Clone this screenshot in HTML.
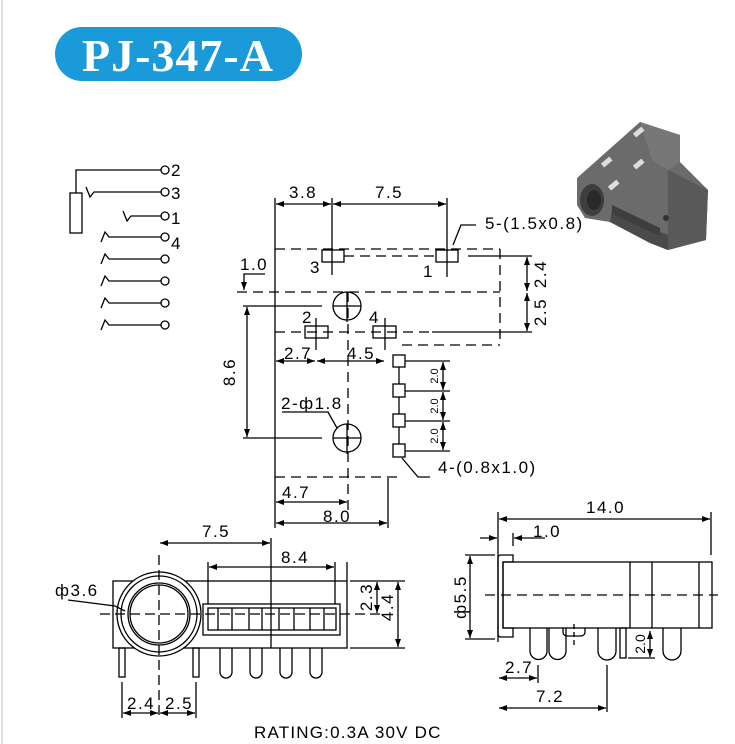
<!DOCTYPE html>
<html><head><meta charset="utf-8"><style>
html,body{margin:0;padding:0;background:#fff;}
svg{display:block;font-family:"Liberation Sans",Arial,sans-serif;}
</style></head><body>
<svg width="735" height="744" viewBox="0 0 735 744" xmlns="http://www.w3.org/2000/svg">
<defs>
<marker id="a" markerWidth="8" markerHeight="6" refX="8" refY="3" orient="auto-start-reverse" markerUnits="userSpaceOnUse"><path d="M0,0 L8,3 L0,6 z" fill="#000"/></marker>
</defs>
<line x1="2" y1="0" x2="2" y2="744" stroke="#ddd" stroke-width="2"/>
<rect x="55" y="27" width="247" height="54" rx="27" fill="#1a9ad9"/>
<text x="178" y="71" font-family="Liberation Serif,serif" font-weight="bold" font-size="46" fill="#fff" text-anchor="middle" letter-spacing="1">PJ-347-A</text>

<!-- schematic -->
<g stroke="#000" stroke-width="1.3" fill="none">
<polyline points="76,193 76,170 161,170"/>
<rect x="70" y="193" width="12" height="40" fill="#fff"/>
<polyline points="86,187 90,197 94,192 161,192"/>
<polyline points="123,211 127,221 131,216 161,216"/>
<polyline points="101,242 105,232 109,237 161,237"/>
<polyline points="101,264 105,254 109,259 161,259"/>
<polyline points="101,286 105,276 109,281 161,281"/>
<polyline points="101,308 105,298 109,303 161,303"/>
<polyline points="101,330 105,320 109,325 161,325"/>
<circle cx="165" cy="170" r="4"/><circle cx="165" cy="192" r="4"/><circle cx="165" cy="216" r="4"/><circle cx="165" cy="237" r="4"/>
<circle cx="165" cy="259" r="4"/><circle cx="165" cy="281" r="4"/><circle cx="165" cy="303" r="4"/><circle cx="165" cy="325" r="4"/>
</g>
<g font-size="17"><text x="171" y="176">2</text><text x="171" y="199">3</text><text x="171" y="224">1</text><text x="171" y="249">4</text></g>

<!-- photo -->
<g>
<polygon points="577,178 640,122 680,135 680,162 708,190 706,240 668,250 650,243 610,222 585,218 577,205" fill="#6b6b6b"/>
<polygon points="640,122 680,135 680,162 668,170 652,160" fill="#777"/>
<polygon points="668,170 708,190 706,240 668,250" fill="#595959"/>
<polygon points="610,222 650,243 668,250 668,235 650,228 612,210" fill="#4a4a4a"/>
<polygon points="612,205 660,228 660,236 612,214" fill="#3e3e3e"/>
<ellipse cx="592" cy="200" rx="12" ry="16" fill="#3e3e3e"/>
<ellipse cx="594" cy="200" rx="7" ry="10" fill="#2a2a2a"/>
<rect x="633" y="130" width="11" height="5" fill="#ddd" transform="rotate(-40 638 132)"/>
<rect x="601" y="160" width="11" height="5" fill="#ddd" transform="rotate(-40 606 162)"/>
<rect x="633" y="162" width="11" height="5" fill="#ddd" transform="rotate(-40 638 164)"/>
<rect x="608" y="183" width="11" height="5" fill="#ddd" transform="rotate(-40 613 185)"/>
<circle cx="666" cy="218" r="3" fill="#333"/>
</g>

<g stroke="#000" stroke-width="1.3" fill="none">
<!-- top footprint -->
<line x1="275" y1="198" x2="275" y2="528"/>
<line x1="332" y1="198" x2="332" y2="275"/>
<line x1="447" y1="198" x2="447" y2="277"/>
<line x1="276" y1="204" x2="331" y2="204" marker-start="url(#a)" marker-end="url(#a)"/>
<line x1="333" y1="204" x2="446" y2="204" marker-start="url(#a)" marker-end="url(#a)"/>
<g stroke-dasharray="10,6">
<line x1="275" y1="249" x2="500" y2="249"/>
<line x1="344" y1="256" x2="436" y2="256"/>
<line x1="237" y1="292" x2="500" y2="292"/>
<line x1="500" y1="249" x2="500" y2="345"/>
<line x1="402" y1="345" x2="500" y2="345"/>
<line x1="275" y1="332" x2="432" y2="332"/>
<line x1="348" y1="292" x2="348" y2="510"/>
<line x1="275" y1="477" x2="402" y2="477"/>
</g>
<line x1="468" y1="256" x2="532" y2="256"/>
<line x1="432" y1="332" x2="532" y2="332"/>
<rect x="322" y="250" width="22" height="12"/>
<rect x="436" y="250" width="22" height="12"/>
<line x1="527" y1="257" x2="527" y2="291" marker-start="url(#a)" marker-end="url(#a)"/>
<line x1="527" y1="293" x2="527" y2="331" marker-start="url(#a)" marker-end="url(#a)"/>
<polyline points="265,274 244,274 244,290" marker-end="url(#a)"/>
<line x1="243" y1="306" x2="322" y2="306"/>
<circle cx="347" cy="306" r="14"/>
<line x1="347" y1="292" x2="347" y2="322"/><line x1="333" y1="306" x2="361" y2="306"/>
<line x1="243" y1="438" x2="322" y2="438"/>
<circle cx="347" cy="438" r="14"/>
<line x1="347" y1="424" x2="347" y2="454"/><line x1="333" y1="438" x2="361" y2="438"/>
<line x1="247" y1="307" x2="247" y2="437" marker-start="url(#a)" marker-end="url(#a)"/>
<rect x="305" y="326" width="23" height="12"/>
<rect x="373" y="326" width="23" height="12"/>
<line x1="316" y1="318" x2="316" y2="350"/>
<line x1="385" y1="318" x2="385" y2="350"/>
<line x1="276" y1="361" x2="315" y2="361" marker-start="url(#a)" marker-end="url(#a)"/>
<line x1="317" y1="361" x2="384" y2="361" marker-start="url(#a)" marker-end="url(#a)"/>
<line x1="399" y1="355" x2="399" y2="457"/>
<rect x="393" y="355" width="12" height="12" fill="#fff"/>
<rect x="393" y="384" width="12" height="13" fill="#fff"/>
<rect x="393" y="414" width="12" height="13" fill="#fff"/>
<rect x="393" y="444" width="12" height="13" fill="#fff"/>
<line x1="405" y1="361" x2="450" y2="361"/>
<line x1="405" y1="391" x2="450" y2="391"/>
<line x1="405" y1="421" x2="450" y2="421"/>
<line x1="405" y1="451" x2="450" y2="451"/>
<line x1="443" y1="362" x2="443" y2="390" marker-start="url(#a)" marker-end="url(#a)"/>
<line x1="443" y1="392" x2="443" y2="420" marker-start="url(#a)" marker-end="url(#a)"/>
<line x1="443" y1="422" x2="443" y2="450" marker-start="url(#a)" marker-end="url(#a)"/>
<polyline points="402,458 418,477 430,477"/>
<polyline points="282,412 328,412 337,428"/>
<polyline points="453,245 461,225 476,225"/>
<line x1="388" y1="478" x2="388" y2="528"/>
<line x1="276" y1="502" x2="347" y2="502" marker-start="url(#a)" marker-end="url(#a)"/>
<line x1="276" y1="523" x2="387" y2="523" marker-start="url(#a)" marker-end="url(#a)"/>

<!-- bottom left -->
<rect x="113" y="581" width="234" height="67"/>
<circle cx="159" cy="614" r="42" fill="#fff"/>
<circle cx="159" cy="614" r="38"/>
<circle cx="159" cy="614" r="31"/>
<circle cx="159" cy="614" r="29"/>
<rect x="203" y="604" width="137" height="31"/>
<rect x="208" y="608" width="128" height="22"/>
<g>
<line x1="218" y1="608" x2="218" y2="630"/><line x1="232" y1="608" x2="232" y2="630"/>
<line x1="249" y1="608" x2="249" y2="630"/><line x1="262" y1="608" x2="262" y2="630"/>
<line x1="279" y1="608" x2="279" y2="630"/><line x1="294" y1="608" x2="294" y2="630"/>
<line x1="310" y1="608" x2="310" y2="630"/><line x1="324" y1="608" x2="324" y2="630"/>
</g>
<g stroke-dasharray="10,5">
<line x1="100" y1="614" x2="382" y2="614"/>
<line x1="159" y1="555" x2="159" y2="718"/>
</g>
<rect x="119" y="648" width="6" height="29"/>
<rect x="193" y="648" width="6" height="29"/>
<path d="M220,648 V672 a6,6 0 0 0 12,0 V648"/>
<path d="M250,648 V672 a6,6 0 0 0 12,0 V648"/>
<path d="M280,648 V672 a6,6 0 0 0 12,0 V648"/>
<path d="M310,648 V672 a6,6 0 0 0 12,0 V648"/>
<line x1="271" y1="538" x2="271" y2="648"/>
<line x1="160" y1="543" x2="270" y2="543" marker-start="url(#a)" marker-end="url(#a)"/>
<line x1="208" y1="562" x2="208" y2="604"/>
<line x1="335" y1="562" x2="335" y2="604"/>
<line x1="347" y1="562" x2="347" y2="581"/>
<line x1="209" y1="567" x2="334" y2="567" marker-start="url(#a)" marker-end="url(#a)"/>
<line x1="350" y1="581" x2="405" y2="581"/>
<line x1="350" y1="648" x2="405" y2="648"/>
<line x1="377" y1="582" x2="377" y2="613" marker-start="url(#a)" marker-end="url(#a)"/>
<line x1="398" y1="582" x2="398" y2="647" marker-start="url(#a)" marker-end="url(#a)"/>
<polyline points="68,600 115,606 125,611"/>
<line x1="122" y1="682" x2="122" y2="718"/>
<line x1="196" y1="682" x2="196" y2="718"/>
<line x1="123" y1="713" x2="158" y2="713" marker-start="url(#a)" marker-end="url(#a)"/>
<line x1="160" y1="713" x2="195" y2="713" marker-start="url(#a)" marker-end="url(#a)"/>

<!-- bottom right -->
<line x1="498" y1="512" x2="498" y2="642"/>
<line x1="711" y1="512" x2="711" y2="555"/>
<line x1="499" y1="519" x2="710" y2="519" marker-start="url(#a)" marker-end="url(#a)"/>
<line x1="513" y1="533" x2="513" y2="546"/>
<line x1="545" y1="538" x2="514" y2="538" marker-end="url(#a)"/>
<line x1="480" y1="538" x2="497" y2="538" marker-end="url(#a)"/>
<path d="M498,558 Q498,555 501,555 H513 V562 H503 V628 H513 V637 H501 Q498,637 498,634 Z"/>
<rect x="503" y="562" width="209" height="66"/>
<line x1="630" y1="562" x2="630" y2="628"/>
<line x1="652" y1="562" x2="652" y2="628"/>
<line x1="699" y1="562" x2="699" y2="628"/>
<line x1="485" y1="595" x2="718" y2="595" stroke-dasharray="10,6"/>
<line x1="465" y1="555" x2="495" y2="555"/>
<line x1="465" y1="639" x2="495" y2="639"/>
<line x1="470" y1="556" x2="470" y2="638" marker-start="url(#a)" marker-end="url(#a)"/>
<path d="M530,628 V651 a6,6 0 0 0 17,0 V628"/>
<path d="M549,628 V651 a6,6 0 0 0 17,0 V628"/>
<path d="M598,628 V651 a6,6 0 0 0 18,0 V628"/>
<path d="M663,628 V651 a6,6 0 0 0 18,0 V628"/>
<path d="M563,628 V632 a4,4 0 0 0 4,4 H581 a4,4 0 0 0 4,-4 V628"/>
<line x1="574" y1="624" x2="574" y2="646" stroke-dasharray="5,3"/>
<rect x="620" y="628" width="6" height="30"/>
<line x1="628" y1="658" x2="655" y2="658"/>
<line x1="650" y1="631" x2="650" y2="657" marker-start="url(#a)" marker-end="url(#a)"/>
<line x1="538" y1="665" x2="538" y2="683"/>
<line x1="607" y1="665" x2="607" y2="712"/>
<line x1="499" y1="678" x2="537" y2="678" marker-start="url(#a)" marker-end="url(#a)"/>
<line x1="499" y1="708" x2="606" y2="708" marker-start="url(#a)" marker-end="url(#a)"/>
</g>

<g font-size="17" fill="#000" letter-spacing="1.5">
<text x="289" y="198">3.8</text>
<text x="375" y="198">7.5</text>
<text x="485" y="229">5-(1.5x0.8)</text>
<text x="310" y="273">3</text>
<text x="423" y="277">1</text>
<text x="240" y="270">1.0</text>
<text x="302" y="323">2</text>
<text x="369" y="323">4</text>
<text x="284" y="359">2.7</text>
<text x="347" y="359">4.5</text>
<text x="281" y="409">2-ф1.8</text>
<text x="438" y="473">4-(0.8x1.0)</text>
<text x="282" y="498">4.7</text>
<text x="323" y="522">8.0</text>
<text transform="translate(235,372) rotate(-90)" text-anchor="middle">8.6</text>
<text transform="translate(546,274) rotate(-90)" text-anchor="middle">2.4</text>
<text transform="translate(546,312) rotate(-90)" text-anchor="middle">2.5</text>
<text x="202" y="537">7.5</text>
<text x="281" y="563">8.4</text>
<text x="55" y="596">ф3.6</text>
<text transform="translate(372,597) rotate(-90)" text-anchor="middle">2.3</text>
<text transform="translate(393,607) rotate(-90)" text-anchor="middle">4.4</text>
<text x="127" y="709">2.4</text>
<text x="165" y="709">2.5</text>
<text x="254" y="738" letter-spacing="1.2">RATING:0.3A 30V DC</text>
<text x="586" y="513">14.0</text>
<text x="533" y="537">1.0</text>
<text transform="translate(466,597) rotate(-90)" text-anchor="middle">ф5.5</text>
<text x="505" y="673">2.7</text>
<text x="536" y="702">7.2</text>
</g>
<g font-size="11" fill="#000">
<text transform="translate(438,376) rotate(-90)" text-anchor="middle">2.0</text>
<text transform="translate(438,406) rotate(-90)" text-anchor="middle">2.0</text>
<text transform="translate(438,436) rotate(-90)" text-anchor="middle">2.0</text>
<text transform="translate(645,644) rotate(-90)" text-anchor="middle" font-size="14">2.0</text>
</g>
</svg>
</body></html>
